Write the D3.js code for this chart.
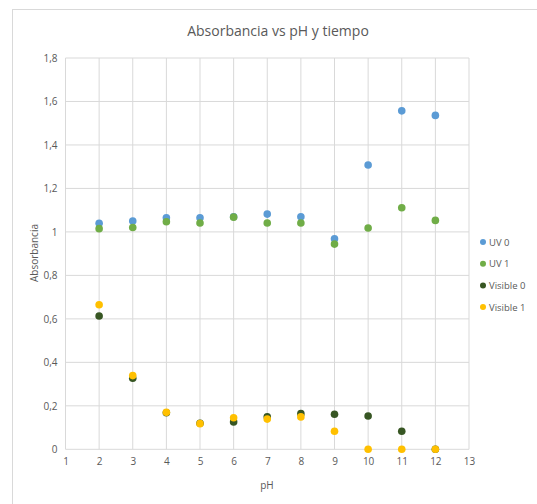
<!DOCTYPE html>
<html><head><meta charset="utf-8">
<script src="https://cdn.jsdelivr.net/npm/d3@7"></script>
<style>body{margin:0;background:#fff;} svg{display:block;font-family:"Open Sans","Liberation Sans",sans-serif;}</style>
</head><body>
<script>
const ph = [2,3,4,5,6,7,8,9,10,11,12];
const uv0 = [1.04,1.05,1.065,1.065,1.07,1.082,1.07,0.968,1.308,1.557,1.536];
const uv1 = [1.015,1.02,1.047,1.041,1.068,1.041,1.041,0.944,1.018,1.111,1.053];
const vis0 = [0.613,0.327,0.168,0.12,0.126,0.15,0.164,0.161,0.153,0.083,0];
const vis1 = [0.665,0.339,0.17,0.118,0.145,0.139,0.149,0.083,0,0,0];
const seriesNames = ["UV 0","UV 1","Visible 0","Visible 1"];
const seriesColors = ["#5B9BD5","#70AD47","#375623","#FFC000"];
const xTicks = [1,2,3,4,5,6,7,8,9,10,11,12,13];
const yTicks = [0,0.2,0.4,0.6,0.8,1,1.2,1.4,1.6,1.8];

const W=537,H=504;
const svg=d3.select("body").append("svg").attr("width",W).attr("height",H);
svg.append("rect").attr("x",12.5).attr("y",9.5).attr("width",W).attr("height",H).attr("fill","#fff").attr("stroke","#d9d9d9");

const x=d3.scaleLinear().domain([1,13]).range([65.5,469]);
const y=d3.scaleLinear().domain([0,1.8]).range([449.3,58]);

const fmt=d=>String(Math.round(d*10)/10).replace(".",",");
// grid
svg.append("g").selectAll("line").data(xTicks).join("line")
 .attr("x1",d=>x(d)).attr("x2",d=>x(d)).attr("y1",y(1.8)).attr("y2",y(0))
 .attr("stroke","#d9d9d9").attr("stroke-width",1);
svg.append("g").selectAll("line").data(yTicks).join("line")
 .attr("x1",x(1)).attr("x2",x(13)).attr("y1",d=>y(d)).attr("y2",d=>y(d))
 .attr("stroke","#d9d9d9").attr("stroke-width",1);

const xa=svg.append("g").attr("transform",`translate(0,${y(0)})`).call(d3.axisBottom(x).tickValues(xTicks).tickSize(0).tickPadding(9).tickFormat(d=>d));
xa.select(".domain").remove();
xa.selectAll("text").attr("fill","#595959").style("font-size","10px").style("font-family","Open Sans, sans-serif");
const ya=svg.append("g").attr("transform",`translate(${x(1)},0)`).call(d3.axisLeft(y).tickValues(yTicks).tickSize(0).tickPadding(8).tickFormat(fmt));
ya.select(".domain").remove();
ya.selectAll("text").attr("fill","#595959").style("font-size","10px").style("font-family","Open Sans, sans-serif");

svg.append("text").attr("x",278).attr("y",36).attr("text-anchor","middle").attr("fill","#595959").style("font-size","14px").text("Absorbancia vs pH y tiempo");
svg.append("text").attr("x",267).attr("y",489).attr("text-anchor","middle").attr("fill","#595959").style("font-size","10px").text("pH");
svg.append("text").attr("transform","translate(38,253) rotate(-90)").attr("text-anchor","middle").attr("fill","#595959").style("font-size","10px").text("Absorbancia");

const data=[uv0,uv1,vis0,vis1];
data.forEach((vals,i)=>{
  svg.append("g").selectAll("circle").data(vals).join("circle")
   .attr("cx",(d,j)=>x(ph[j])).attr("cy",d=>y(d)).attr("r",3.8).attr("fill",seriesColors[i]);
});

const lg=svg.append("g");
seriesNames.forEach((n,i)=>{
  const yy=242+i*21.7;
  lg.append("circle").attr("cx",483).attr("cy",yy).attr("r",3).attr("fill",seriesColors[i]);
  lg.append("text").attr("x",489).attr("y",yy+3.5).attr("fill","#595959").style("font-size","9.5px").text(n);
});
</script>
</body></html>
